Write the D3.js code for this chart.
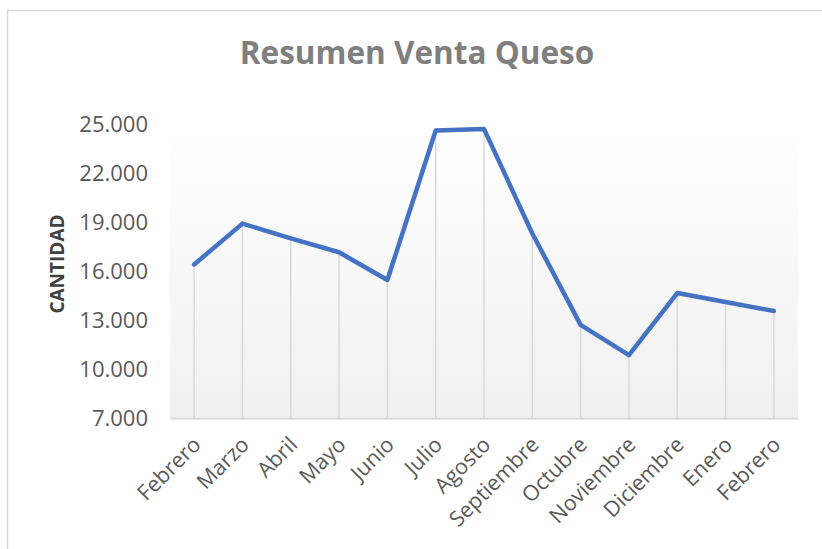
<!DOCTYPE html>
<html>
<head>
<meta charset="utf-8">
<script src="https://cdn.jsdelivr.net/npm/d3@7"></script>
<style>
  body { margin: 0; background: #fff; }
  text { font-family: "Open Sans", sans-serif; }
</style>
</head>
<body>
<div id="chart"></div>
<script>
var months = ["Febrero", "Marzo", "Abril", "Mayo", "Junio", "Julio", "Agosto",
              "Septiembre", "Octubre", "Noviembre", "Diciembre", "Enero", "Febrero"]
var ventas = [16400, 18900, 18000, 17150, 15450, 24600, 24700,
              18300, 12700, 10850, 14650, 14100, 13550]
var yTicks = [7000, 10000, 13000, 16000, 19000, 22000, 25000]

var width = 822, height = 549
var margin = {top: 124, right: 24, bottom: 131, left: 170}
var plotW = width - margin.left - margin.right
var plotH = height - margin.top - margin.bottom

var svg = d3.select("#chart").append("svg")
    .attr("width", width)
    .attr("height", height)

// chart frame
svg.append("rect")
    .attr("x", 7.5)
    .attr("y", 10.5)
    .attr("width", width + 10)
    .attr("height", height + 10)
    .style("fill", "#fff")
    .style("stroke", "#d9d9d9")
    .style("stroke-width", 1.5)

var defs = svg.append("defs")
var grad = defs.append("linearGradient")
    .attr("id", "plotGrad")
    .attr("x1", 0).attr("y1", 0).attr("x2", 0).attr("y2", 1)
grad.append("stop").attr("offset", "0%").attr("stop-color", "#ffffff")
grad.append("stop").attr("offset", "100%").attr("stop-color", "#f0f0f0")

var g = svg.append("g")
    .attr("transform", "translate(" + margin.left + "," + margin.top + ")")

var x = d3.scaleBand()
    .domain(d3.range(months.length))
    .range([0, plotW])

var y = d3.scaleLinear()
    .domain([7000, 25000])
    .range([plotH, 0])

g.append("rect")
    .attr("x", 0)
    .attr("y", 0)
    .attr("width", plotW)
    .attr("height", plotH)
    .style("fill", "url(#plotGrad)")

// drop lines
g.selectAll(".drop")
    .data(ventas)
    .enter()
    .append("line")
    .attr("class", "drop")
    .attr("x1", function(d, i) { return x(i) + x.bandwidth() / 2 })
    .attr("x2", function(d, i) { return x(i) + x.bandwidth() / 2 })
    .attr("y1", function(d) { return y(d) })
    .attr("y2", plotH)
    .style("stroke", "#d9d9d9")
    .style("stroke-width", 1.5)

// y axis
var yAxis = d3.axisLeft(y)
    .tickValues(yTicks)
    .tickSize(0)
    .tickPadding(22)
    .tickFormat(function(d) { return d3.format(",")(d).replace(",", ".") })

g.append("g")
    .attr("class", "y-axis")
    .call(yAxis)
    .call(function(s) { s.select(".domain").remove() })
    .selectAll("text")
    .style("font-family", "'Open Sans', sans-serif")
    .style("font-size", "22px")
    .style("fill", "#595959")
    .attr("dy", "0.36em")

// x axis
var xAxis = d3.axisBottom(x)
    .tickSize(0)
    .tickFormat(function(i) { return months[i] })

var xg = g.append("g")
    .attr("class", "x-axis")
    .attr("transform", "translate(0," + plotH + ")")
    .call(xAxis)

xg.select(".domain")
    .style("stroke", "#d9d9d9")
    .style("stroke-width", 2)

xg.selectAll("text")
    .style("font-family", "'Open Sans', sans-serif")
    .style("font-size", "21.5px")
    .style("fill", "#595959")
    .style("text-anchor", "end")
    .attr("dx", 0)
    .attr("dy", 0)
    .attr("y", 0)
    .attr("transform", "translate(8,28) rotate(-45)")

// series line
var line = d3.line()
    .x(function(d, i) { return x(i) + x.bandwidth() / 2 })
    .y(function(d) { return y(d) })

g.append("path")
    .datum(ventas)
    .attr("d", line)
    .style("fill", "none")
    .style("stroke", "#4472c4")
    .style("stroke-width", 4.5)
    .style("stroke-linejoin", "round")
    .style("stroke-linecap", "round")

// title
svg.append("text")
    .attr("x", 417)
    .attr("y", 64)
    .attr("text-anchor", "middle")
    .style("font-size", "31.5px")
    .style("font-weight", "bold")
    .style("fill", "#7f7f7f")
    .text("Resumen Venta Queso")

// y label
svg.append("text")
    .attr("transform", "translate(64,264) rotate(-90)")
    .attr("text-anchor", "middle")
    .style("font-size", "19px")
    .style("font-weight", "bold")
    .style("fill", "#404040")
    .text("CANTIDAD")
</script>
</body>
</html>
